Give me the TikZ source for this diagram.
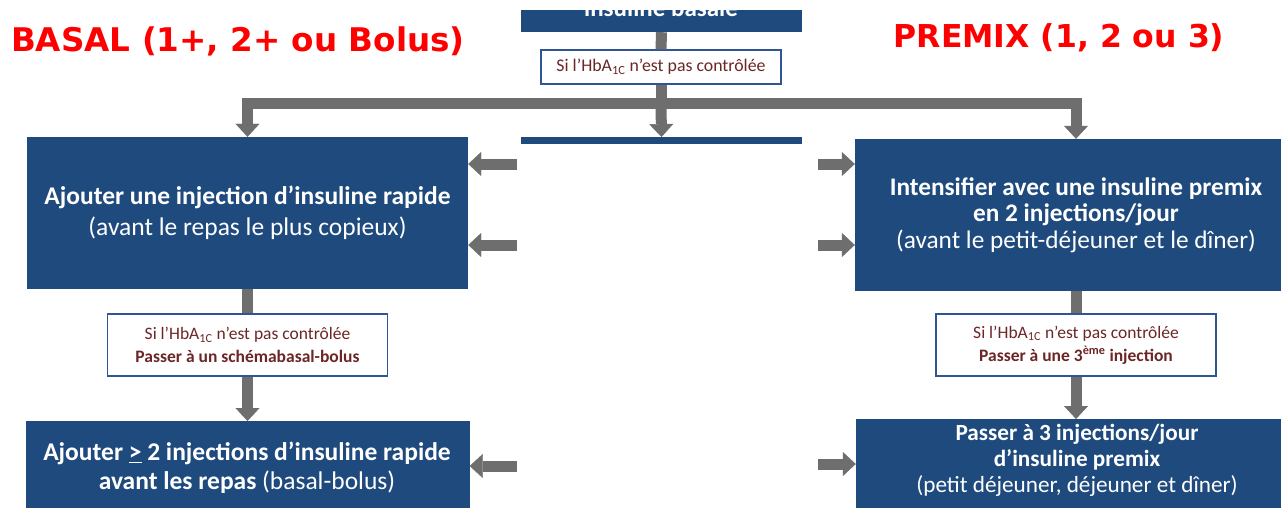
\documentclass[tikz,border=0pt]{standalone}
\usepackage{fontspec}
\setmainfont{Carlito}
\newfontfamily\titlefont{DejaVu Sans}
\usetikzlibrary{arrows.meta}
\definecolor{boxblue}{HTML}{1F4A7D}
\definecolor{arrgray}{HTML}{6E6E6E}
\definecolor{labblue}{HTML}{2F5597}
\definecolor{labtext}{HTML}{6B2626}
\definecolor{titlered}{HTML}{FF0000}
\begin{document}
\begin{tikzpicture}[x=1pt,y=-1pt,
  box/.style={fill=boxblue, text=white, inner sep=0pt, align=center},
  lab/.style={draw=labblue, line width=1.1pt, fill=white, text=labtext, align=center, inner sep=0pt},
  shaft/.style={draw=arrgray, line width=11pt},
  arr/.style={shaft, -{Triangle[width=24pt,length=13pt,line width=0.4pt]}},
  title/.style={text=titlered, anchor=base, font=\titlefont\bfseries}]
\clip (0,0) rectangle (1281,508);
\fill[white] (0,0) rectangle (1281,508);
% titles
\node[title, font=\titlefont\bfseries\fontsize{32.6}{38}\selectfont] (tb) at (238,52) {BASAL (1+, 2+ ou Bolus)};
\node[title, font=\titlefont\bfseries\fontsize{31.5}{36}\selectfont] (tp) at (1059,48) {PREMIX (1, 2 ou 3)};
% top box (cropped)
\begin{scope}
\clip (0,11) rectangle (1281,508);
\node[box, minimum width=281pt, minimum height=50pt] (basal) at (661.5,7) {};
\node[text=white, anchor=base, font=\bfseries\fontsize{25}{28}\selectfont] (basaltxt) at (661,17) {insuline basale};
\end{scope}
% first label
\node[lab, minimum width=240pt, minimum height=34pt, font=\fontsize{17.8}{21}\selectfont] (lab0) at (661,67) {Si l'HbA\textsubscript{1C} n'est pas contrôlée};
% center box (mostly hidden)
\node[box, minimum width=281pt, minimum height=120pt, anchor=north] (C) at (661.5,137) {};
% left and right boxes
\node[box, minimum width=441pt, minimum height=152pt, font=\fontsize{25.5}{31}\selectfont] (L) at (247.5,213)
  {\textbf{Ajouter une injection d'insuline rapide}\\(avant le repas le plus copieux)};
\node[box, minimum width=442pt, minimum height=152pt, font=\fontsize{25.3}{26.5}\selectfont] (R) at (1076,215)
  {\textbf{Intensifier avec une insuline premix}\\\textbf{en 2 injections/jour}\\(avant le petit-déjeuner et le dîner)};
% lower labels
\node[lab, minimum width=280pt, minimum height=62pt, font=\fontsize{17.5}{23}\selectfont] (lab1) at (247.5,345)
  {Si l'HbA\textsubscript{1C} n'est pas contrôlée\\\textbf{Passer à un schémabasal-bolus}};
\node[lab, minimum width=280pt, minimum height=62pt, font=\fontsize{17.5}{23}\selectfont] (lab2) at (1076,345)
  {Si l'HbA\textsubscript{1C} n'est pas contrôlée\\\textbf{Passer à une 3\textsuperscript{ème} injection}};
% lower boxes
\node[box, minimum width=444pt, minimum height=120pt, anchor=north] (LL) at (247.5,421) {};
\node[text=white, align=center, font=\fontsize{25.5}{29}\selectfont] (LLtxt) at (247,468)
  {\textbf{Ajouter \underline{>} 2 injections d'insuline rapide}\\\textbf{avant les repas} (basal-bolus)};
\node[box, minimum width=440pt, minimum height=120pt, anchor=north] (RR) at (1076,419) {};
\node[text=white, align=center, font=\fontsize{23.2}{26}\selectfont] (RRtxt) at (1077,460)
  {\textbf{Passer à 3 injections/jour}\\\textbf{d'insuline premix}\\(petit déjeuner, déjeuner et dîner)};
% connectors
\coordinate (split) at (661,104);
\draw[shaft] (basal.south) -- (lab0.north);
\draw[shaft] (lab0.south) -- (split);
\draw[arr] (split) -- (C.north);
\draw[arr] (split) -| (L.north);
\draw[arr] (split) -| (R.north);
\draw[shaft] (L.south) -- (lab1.north);
\draw[arr] (lab1.south) -- (LL.north);
\draw[shaft] (R.south) -- (lab2.north);
\draw[arr] (lab2.south) -- (RR.north);
% side arrows (from the hidden middle column)
\coordinate (la1) at (517,164);
\coordinate (la2) at (517,245);
\coordinate (la3) at (517,466);
\coordinate (ra1) at (818,164);
\coordinate (ra2) at (818,245);
\coordinate (ra3) at (818,464);
% white cover over the middle column
\fill[white] (516,144) rectangle (806,508);
\draw[arr] (la1) -- (la1 -| L.east);
\draw[arr] (la2) -- (la2 -| L.east);
\draw[arr] (la3) -- (la3 -| LL.east);
\draw[arr] (ra1) -- (ra1 -| R.west);
\draw[arr] (ra2) -- (ra2 -| R.west);
\draw[arr] (ra3) -- (ra3 -| RR.west);
\end{tikzpicture}
\end{document}
